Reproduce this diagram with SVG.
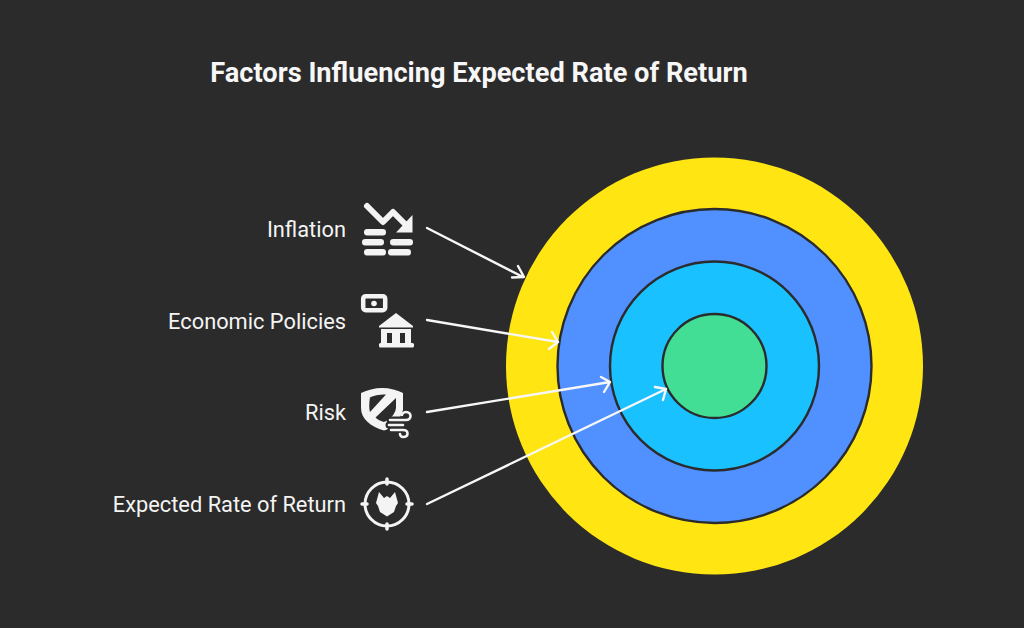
<svg xmlns="http://www.w3.org/2000/svg" width="1024" height="628" viewBox="0 0 1024 628">
<style>
.t{font-family:Roboto,"Liberation Sans",sans-serif;fill:#f4f4f4;font-size:21.800px;text-anchor:end}
.r{stroke:#2b2b2b;stroke-width:2.400}
.c{fill:none;stroke:#f7f7f7;stroke-width:2.400;stroke-linecap:round;stroke-linejoin:round}
.ic{fill:#f4f4f4}
.bg{fill:#2b2b2b}
.il{fill:none;stroke:#f4f4f4;stroke-linecap:round;stroke-linejoin:round}
</style>
<rect width="1024" height="628" fill="#2b2b2b"/>
<text x="479" y="81.500" font-family="Roboto,'Liberation Sans',sans-serif" font-size="27.200" font-weight="700" fill="#f7f7f7" text-anchor="middle">Factors Influencing Expected Rate of Return</text>
<g id="ring-yellow"><circle cx="714.500" cy="366" r="208.500" fill="#ffe612"/></g>
<g id="ring-blue"><circle class="r" cx="714.500" cy="366" r="157" fill="#5090ff"/></g>
<g id="ring-cyan"><circle class="r" cx="714.500" cy="366" r="104.500" fill="#1ac1ff"/></g>
<g id="ring-green"><circle class="r" cx="714.500" cy="366" r="52" fill="#42de96"/></g>
<g id="node-inflation">
<text class="t" x="346" y="236.500">Inflation</text>
<path class="il" stroke-width="6" d="M367 206L383 222L393 212L407 226"/>
<path class="ic" d="M412.500 215V232.500H396Z"/>
<rect class="ic" x="364" y="229" width="22" height="6.500" rx="3.200"/>
<rect class="ic" x="362" y="239" width="22" height="6.500" rx="3.200"/>
<rect class="ic" x="390" y="239" width="23" height="6.500" rx="3.200"/>
<rect class="ic" x="364" y="249" width="22" height="6.500" rx="3.200"/>
<rect class="ic" x="388" y="249" width="23" height="6.500" rx="3.200"/>
</g>
<g id="node-economic">
<text class="t" x="346" y="328.500">Economic Policies</text>
<rect class="il" stroke-width="4.500" x="363.200" y="296.200" width="22" height="14" rx="2.500"/>
<circle class="ic" cx="374" cy="303.500" r="2.800"/>
<path class="ic" d="M396 313L413 326V327.500H379V326Z"/>
<rect class="ic" x="381" y="329" width="30" height="16"/>
<rect class="bg" x="387" y="333" width="5" height="10"/>
<rect class="bg" x="400" y="333" width="5" height="10"/>
<rect class="ic" x="379" y="343" width="35" height="4.500" rx="1.500"/>
</g>
<g id="node-risk">
<text class="t" x="346" y="419.500">Risk</text>
<path class="ic" d="M382 388C375 388 367 390 361 393V408C361 419 371 427 384 430.500C390 429 396 425 399 420L403 410V393C397 390 390 388 382 388Z"/>
<path class="bg" d="M370 397.500C374 395.500 378 394.500 386 394.500L370 412C369 409 369 403 370 397.500ZM396 398V407C396 413 391 419 384 422C380 421 377 419 375.500 417.500Z"/>
<path class="il" stroke="#2b2b2b" style="stroke:#2b2b2b" stroke-width="7" d="M390 420H406M389 425H408M391 430H403"/>
<path class="il" stroke-width="2.600" d="M390 420H406C412 420 412 412 406 412C403 412 402 414 402 415M389 425H403M391 430H403C409 430 409 437 403 437C401 437 400 435 400 434"/>
</g>
<g id="node-return">
<text class="t" x="346" y="511.500">Expected Rate of Return</text>
<circle class="il" stroke-width="3" cx="387" cy="504" r="22"/>
<path class="il" stroke-width="3.500" d="M387 479V484M387 524V529M362 504H367M407 504H412"/>
<path class="ic" d="M379 492L384 498L387 496L390 498L395 492L398 503L396 506L394 512L387 516.500L380 512L378 506L376 503Z"/>
</g>
<g id="connectors">
<path class="c" d="M427 228L523 277M512 277.500L524 277L518 266"/>
<path class="c" d="M427 320L558 342M549 349L558 342L552 332"/>
<path class="c" d="M427 412L610 382M601 377L610 382L604 392"/>
<path class="c" d="M427 504L666 389M655 387L666 389L663 400"/>
</g>
</svg>
